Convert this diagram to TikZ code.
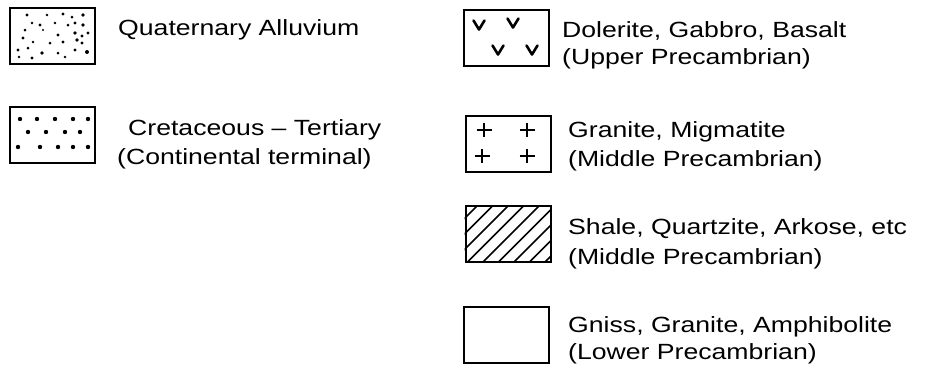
\documentclass[tikz,border=0pt]{standalone}
\usepackage{fontspec}
\setmainfont[FakeStretch=1.21]{Liberation Sans}
\begin{document}
\begin{tikzpicture}[x=1pt,y=-1pt,
  legbox/.style={draw=black,line width=2pt,fill=none,inner sep=0pt,minimum width=85pt,minimum height=56pt},
  lbl/.style={anchor=base west,inner sep=0pt,font=\fontsize{22}{26}\selectfont},
  dotf/.style={fill=black},
  vmark/.style={line width=2.6pt,line cap=round,line join=round},
  pmark/.style={line width=2.3pt},
  hatchl/.style={line width=1.7pt}]
\useasboundingbox (0,0) rectangle (925,373);
% ---- boxes
\node[legbox] (b1) at (52.5,35.5) {};
\node[legbox] (b2) at (52.5,134.5) {};
\node[legbox] (b3) at (506,38) {};
\node[legbox] (b4) at (508,143.5) {};
\node[legbox] (b5) at (508,234) {};
\node[legbox] (b6) at (506,335) {};
% ---- Quaternary dots
\foreach \x/\y/\r in {27/15/1.6,47/15/1.4,63/14/1.7,72/17/1.5,83/15/1.9,
  32/23/1.4,40/25/1.6,55/23/1.3,68/25/1.5,75/23/1.7,83/25/1.8,
  25/30/1.5,43/30/1.2,58/35/1.6,75/33/1.8,82/36/1.7,88/33/1.6,
  23/38/1.6,33/42/1.4,50/43/1.5,63/42/1.6,77/40/1.9,82/43/1.6,
  18/50/1.7,28/48/1.5,42/53/1.8,58/53/1.5,75/50/1.7,87/52/2.0,
  19/57/1.4,32/58/1.6,65/57/1.4}
  \fill[dotf] (\x,\y) circle (\r);
% ---- Cretaceous dots
\foreach \x/\y in {20/119,37/119,55/119,73/119,88/119,
  28/132,46/132,65/132,80/132,
  18/147,40/147,58/147,73/147,88/147}
  \fill[dotf] (\x,\y) circle (2.2);
% ---- V marks (dolerite)
\foreach \x/\y in {479/25,513/23,498/50,532/50}
  \draw[vmark] (\x-5.5,\y-4.5) -- (\x,\y+4.5) -- (\x+5.5,\y-4.5);
% ---- plus marks (granite)
\foreach \x/\y in {484/130,527/130,482/156,527/156}
  \draw[pmark] (\x-7.5,\y) -- (\x+7.5,\y) (\x,\y-7) -- (\x,\y+7);
% ---- hatch
\begin{scope}
  \clip (b5.north west) rectangle (b5.south east);
  \foreach \k in {-1,...,8}
    \draw[hatchl] (477+15.5*\k-56,262) -- (477+15.5*\k,206);
\end{scope}
\node[legbox] at (b5) {};
% ---- labels
\node[lbl] (t1) at (118,35) {Quaternary Alluvium};
\node[lbl] (t2a) at (128,135) {Cretaceous – Tertiary};
\node[lbl] (t2b) at (117,164) {(Continental terminal)};
\node[lbl] (t3a) at (562,37) {Dolerite, Gabbro, Basalt};
\node[lbl] (t3b) at (562,64) {(Upper Precambrian)};
\node[lbl] (t4a) at (568,137) {Granite, Migmatite};
\node[lbl] (t4b) at (568,166) {(Middle Precambrian)};
\node[lbl] (t5a) at (568,234) {Shale, Quartzite, Arkose, etc};
\node[lbl] (t5b) at (568,264) {(Middle Precambrian)};
\node[lbl] (t6a) at (568,332) {Gniss, Granite, Amphibolite};
\node[lbl] (t6b) at (568,359) {(Lower Precambrian)};
\end{tikzpicture}
\end{document}
